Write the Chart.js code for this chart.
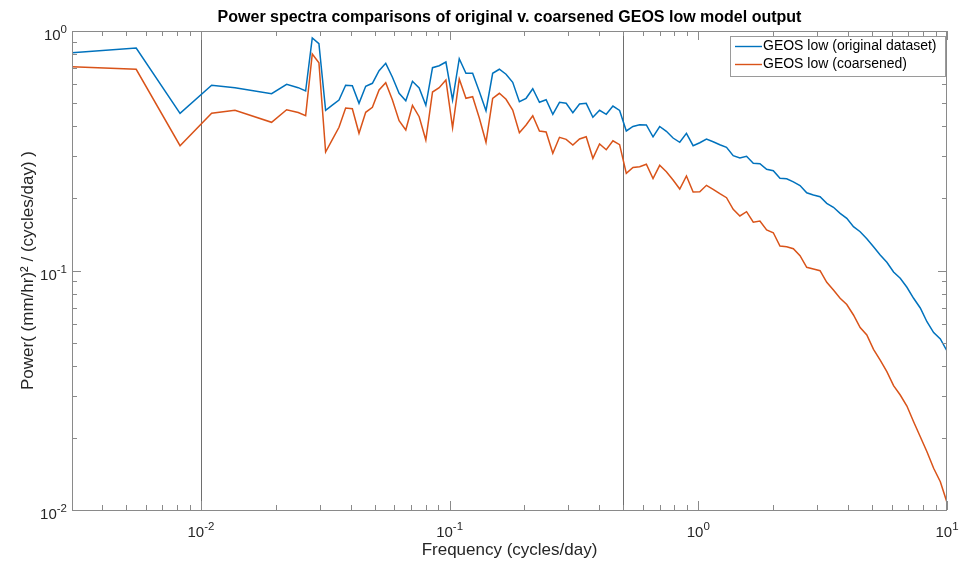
<!DOCTYPE html>
<html>
<head>
<meta charset="utf-8">
<script src="https://cdn.jsdelivr.net/npm/chart.js@4/dist/chart.umd.min.js"></script>
<style>
html,body{margin:0;padding:0;background:#fff;}
#c{display:block;}
</style>
</head>
<body>
<canvas id="c" width="968" height="561"></canvas>
<script>
const FONT = '"Liberation Sans", Arial, Helvetica, sans-serif';
const chartTitle = 'Power spectra comparisons of original v. coarsened GEOS low model output';
const xTitle = 'Frequency (cycles/day)';
const yTitle = 'Power( (mm/hr)\u00B2 / (cycles/day) )';
const seriesNames = ['GEOS low (original dataset)', 'GEOS low (coarsened)'];
const seriesColors = ['#0072BD', '#D95319'];

const xRange = [0.00303, 10];
const yRange = [0.01, 1];
const tickBase = '10';
const xTickValues = [0.01, 0.1, 1, 10];
const xTickExponents = ['-2', '-1', '0', '1'];
const yTickValues = [0.01, 0.1, 1];
const yTickExponents = ['-2', '-1', '0'];
const markerLines = [0.01, 0.5];

const freqs = [
  0.00303, 0.00549, 0.00824, 0.01104, 0.0137, 0.01923, 0.02211, 0.02461, 0.02636,
  0.02803, 0.02981, 0.03172, 0.03374, 0.0359, 0.03818, 0.04062, 0.04321, 0.04597, 0.04891,
  0.05203, 0.05534, 0.05888, 0.06263, 0.06663, 0.07088, 0.07541, 0.08022, 0.08534, 0.09079,
  0.0966, 0.10276, 0.10932, 0.1163, 0.12373, 0.13162, 0.14003, 0.14894, 0.15846, 0.16857,
  0.17932, 0.19077, 0.20296, 0.2159, 0.22969, 0.24434, 0.25993, 0.27653, 0.29417, 0.31296,
  0.33289, 0.35415, 0.37675, 0.40077, 0.42636, 0.45358, 0.4825, 0.51332, 0.54608, 0.5809,
  0.61802, 0.65747, 0.69938, 0.74404, 0.79155, 0.84201, 0.89578, 0.953, 1.0137, 1.0784,
  1.1472, 1.2205, 1.2984, 1.3813, 1.4694, 1.5631, 1.6634, 1.7692, 1.8823, 2.0024,
  2.1299, 2.2661, 2.4109, 2.5645, 2.7283, 2.9024, 3.0872, 3.2846, 3.4943, 3.7171,
  3.9537, 4.2063, 4.475, 4.7598, 5.0641, 5.3875, 5.7304, 6.0967, 6.4863, 6.8992,
  7.3402, 7.8089, 8.3061, 8.837, 9.4015, 10
];

const originalPower = [
  0.8117, 0.8492, 0.4533, 0.5934, 0.5799, 0.5473, 0.5991, 0.5799, 0.5617,
  0.9349, 0.8851, 0.4666, 0.4900, 0.5151, 0.5934, 0.5911, 0.4990, 0.5877, 0.6048,
  0.6829, 0.7329, 0.6408, 0.5494, 0.5117, 0.6166, 0.5781, 0.4895, 0.7028, 0.7164,
  0.7422, 0.5151, 0.7660, 0.6661, 0.6661, 0.5589, 0.4648, 0.6661, 0.6922, 0.6597,
  0.6107, 0.5068, 0.5236, 0.5742, 0.5039, 0.5166, 0.4489, 0.5039, 0.4990, 0.4559,
  0.4957, 0.4990, 0.4362, 0.4666, 0.4489, 0.4862, 0.4657, 0.3824, 0.3993, 0.4063,
  0.4051, 0.3616, 0.3993, 0.3813, 0.3574, 0.3430, 0.3740, 0.3320, 0.3416, 0.3540,
  0.3450, 0.3352, 0.3268, 0.3015, 0.2949, 0.2998, 0.2803, 0.2792, 0.2645, 0.2610,
  0.2427, 0.2417, 0.2346, 0.2264, 0.2112, 0.2066, 0.2033, 0.1908, 0.1836, 0.1733,
  0.1652, 0.1524, 0.1452, 0.1358, 0.1257, 0.1161, 0.1082, 0.09856, 0.09277, 0.08510,
  0.07655, 0.06973, 0.06111, 0.05508, 0.05176, 0.04613
];

const coarsenedPower = [
  0.7095, 0.6922, 0.3320, 0.4533, 0.4666, 0.4157, 0.4692, 0.4568, 0.4429,
  0.8017, 0.7374, 0.3124, 0.3516, 0.3962, 0.4770, 0.4737, 0.3740, 0.4577, 0.4802,
  0.5671, 0.6083, 0.5151, 0.4221, 0.3861, 0.4895, 0.4386, 0.3506, 0.5562, 0.5799,
  0.6243, 0.3946, 0.6303, 0.5236, 0.5316, 0.4332, 0.3430, 0.5236, 0.5494, 0.5186,
  0.4678, 0.3761, 0.4051, 0.4429, 0.3824, 0.3786, 0.3085, 0.3599, 0.3530, 0.3342,
  0.3540, 0.3620, 0.2940, 0.3375, 0.3194, 0.3479, 0.3352, 0.2545, 0.2692, 0.2710,
  0.2776, 0.2422, 0.2749, 0.2585, 0.2387, 0.2189, 0.2481, 0.2127, 0.2133, 0.2268,
  0.2183, 0.2093, 0.2014, 0.1800, 0.1689, 0.1760, 0.1590, 0.1610, 0.1476, 0.1438,
  0.1265, 0.1257, 0.1233, 0.1153, 0.1031, 0.1015, 0.0998, 0.08927, 0.08291, 0.07655,
  0.07211, 0.06520, 0.05781, 0.05377, 0.04688, 0.04229, 0.03780, 0.03304, 0.03021, 0.02717,
  0.02336, 0.02023, 0.01751, 0.01493, 0.01313, 0.01075
];

function minorValues(min, max) {
  const out = [];
  for (let e = Math.floor(Math.log10(min)); e <= Math.ceil(Math.log10(max)); e++) {
    for (let m = 1; m <= 9; m++) {
      const v = m * Math.pow(10, e);
      if (v >= min * 0.999 && v <= max * 1.001) out.push({v, major: m === 1});
    }
  }
  return out;
}

const BASE_FONT = '15px ' + FONT;
const EXP_FONT = '11.5px ' + FONT;
function drawPowerLabel(ctx, base, exp, anchorX, baselineY, align) {
  ctx.font = BASE_FONT;
  const wb = ctx.measureText(base).width;
  ctx.font = EXP_FONT;
  const we = ctx.measureText(exp).width;
  const total = wb + we;
  let x0 = align === 'center' ? anchorX - total / 2 : anchorX - total;
  ctx.textAlign = 'left';
  ctx.textBaseline = 'alphabetic';
  ctx.fillStyle = '#262626';
  ctx.font = BASE_FONT;
  ctx.fillText(base, x0, baselineY);
  ctx.font = EXP_FONT;
  ctx.fillText(exp, x0 + wb, baselineY - 7);
}

const decorPlugin = {
  id: 'decor',
  beforeDatasetsDraw(chart) {
    const {ctx, chartArea: a, scales} = chart;
    ctx.save();
    ctx.strokeStyle = '#6e6e6e';
    ctx.lineWidth = 1;
    markerLines.forEach(v => {
      const x = Math.round(scales.x.getPixelForValue(v)) + 0.5;
      ctx.beginPath();
      ctx.moveTo(x, a.top);
      ctx.lineTo(x, a.bottom);
      ctx.stroke();
    });
    ctx.restore();
  },
  afterDraw(chart) {
    const {ctx, chartArea: a, scales} = chart;
    ctx.save();
    // frame
    ctx.strokeStyle = '#8a8a8a';
    ctx.lineWidth = 1;
    ctx.strokeRect(Math.round(a.left) + 0.5, Math.round(a.top) + 0.5,
      Math.round(a.right - a.left) - 1, Math.round(a.bottom - a.top));
    // ticks
    const MAJ = 9, MIN = 5;
    minorValues(xRange[0], xRange[1]).forEach(t => {
      const x = Math.round(scales.x.getPixelForValue(t.v)) + 0.5;
      const L = t.major ? MAJ : MIN;
      ctx.beginPath();
      ctx.moveTo(x, a.bottom); ctx.lineTo(x, a.bottom - L);
      ctx.moveTo(x, a.top); ctx.lineTo(x, a.top + L);
      ctx.stroke();
    });
    minorValues(yRange[0], yRange[1]).forEach(t => {
      const y = Math.round(scales.y.getPixelForValue(t.v)) + 0.5;
      const L = t.major ? MAJ : MIN;
      ctx.beginPath();
      ctx.moveTo(a.left, y); ctx.lineTo(a.left + L, y);
      ctx.moveTo(a.right, y); ctx.lineTo(a.right - L, y);
      ctx.stroke();
    });
    // tick labels
    xTickValues.forEach((v, i) => {
      drawPowerLabel(ctx, tickBase, xTickExponents[i], scales.x.getPixelForValue(v), a.bottom + 27, 'center');
    });
    yTickValues.forEach((v, i) => {
      drawPowerLabel(ctx, tickBase, yTickExponents[i], a.left - 5, scales.y.getPixelForValue(v) + 9, 'right');
    });
    // title
    ctx.fillStyle = '#000';
    ctx.font = 'bold 16px ' + FONT;
    ctx.textAlign = 'center';
    ctx.textBaseline = 'middle';
    ctx.fillText(chartTitle, (a.left + a.right) / 2, 18);
    // legend
    const lx = 730, ly = 36, lw = 215, lh = 40;
    ctx.fillStyle = '#fff';
    ctx.fillRect(lx, ly, lw, lh);
    ctx.strokeStyle = '#9a9a9a';
    ctx.strokeRect(lx + 0.5, ly + 0.5, lw, lh);
    ctx.font = '14px ' + FONT;
    ctx.textAlign = 'left';
    ctx.textBaseline = 'middle';
    chart.data.datasets.forEach((ds, i) => {
      const yy = ly + 10.5 + i * 18;
      ctx.strokeStyle = ds.borderColor;
      ctx.lineWidth = 1.4;
      ctx.beginPath();
      ctx.moveTo(lx + 5, yy); ctx.lineTo(lx + 32, yy);
      ctx.stroke();
      ctx.fillStyle = '#000';
      ctx.fillText(ds.label, lx + 33, yy);
    });
    ctx.restore();
  }
};

new Chart(document.getElementById('c'), {
  type: 'line',
  data: {
    datasets: [
      {label: seriesNames[0], data: freqs.map((f, i) => ({x: f, y: originalPower[i]})),
       borderColor: seriesColors[0], backgroundColor: seriesColors[0], borderWidth: 1.5,
       pointRadius: 0, tension: 0, fill: false},
      {label: seriesNames[1], data: freqs.map((f, i) => ({x: f, y: coarsenedPower[i]})),
       borderColor: seriesColors[1], backgroundColor: seriesColors[1], borderWidth: 1.5,
       pointRadius: 0, tension: 0, fill: false}
    ]
  },
  options: {
    responsive: false,
    animation: false,
    devicePixelRatio: 1,
    layout: {padding: {top: 31, right: 21, left: 0, bottom: 0}},
    plugins: {legend: {display: false}, title: {display: false}, tooltip: {enabled: false}},
    scales: {
      x: {
        type: 'logarithmic', min: xRange[0], max: xRange[1],
        afterBuildTicks: s => { s.ticks = xTickValues.map(v => ({value: v})); },
        afterFit: s => { s.height = 51; },
        ticks: {display: false},
        grid: {display: false, drawTicks: false, tickLength: 0},
        border: {display: false},
        title: {display: true, text: xTitle, color: '#262626', font: {family: FONT, size: 17}, padding: {top: 0, bottom: 0}}
      },
      y: {
        type: 'logarithmic', min: yRange[0], max: yRange[1],
        afterBuildTicks: s => { s.ticks = yTickValues.map(v => ({value: v})); },
        afterFit: s => { s.width = 72; },
        ticks: {display: false},
        grid: {display: false, drawTicks: false, tickLength: 0},
        border: {display: false},
        title: {display: true, text: yTitle, color: '#262626', font: {family: FONT, size: 17}, padding: {top: 18, bottom: 0}}
      }
    }
  },
  plugins: [decorPlugin]
});
</script>
</body>
</html>
